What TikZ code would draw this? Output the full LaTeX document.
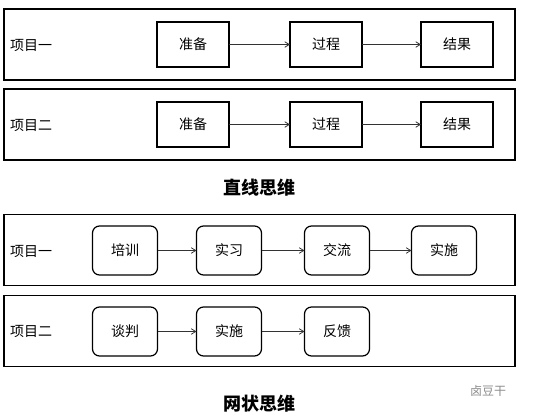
\documentclass[tikz,border=0pt]{standalone}
\usepackage{fontspec}
\setmainfont{Noto Sans CJK SC}
\usepackage{tikz}
\usetikzlibrary{arrows.meta,positioning}
\tikzset{
    laneBox/.style={
        draw,
        line width=1.2pt,
        inner sep=0pt,
        outer sep=0pt,
        minimum width=511pt,
        minimum height=71pt
    },
    laneLabel/.style={
        anchor=west,
        inner sep=0pt,
        font=\fontsize{14pt}{16pt}\selectfont
    },
    stepBox/.style={
        draw,
        line width=1.2pt,
        outer sep=0pt,
        minimum width=72pt,
        minimum height=45pt,
        font=\fontsize{14pt}{16pt}\selectfont
    },
    roundBox/.style={
        stepBox,
        rounded corners=7pt,
        minimum width=65pt,
        minimum height=49pt
    },
    flowArrow/.style={
        -{Straight Barb[length=4.5pt,width=5.5pt]},
        line width=0.8pt,
        black!80
    },
    titleText/.style={
        font=\fontsize{18pt}{20pt}\selectfont\bfseries
    }
}
\begin{document}
\begin{tikzpicture}[x=1pt,y=-1pt,node distance=60pt and 60pt]
    \useasboundingbox (0,0) rectangle (554,416);

    % straight-line thinking
    \node[laneBox] (laneA) at (259.5,44.5) {};
    \node[laneBox] (laneB) at (259.5,124.5) {};
    \node[laneLabel] (labelA) at (10,45) {项目一};
    \node[laneLabel] (labelB) at (10,125) {项目二};

    \node[stepBox] (prepA) at (193,44.5) {准备};
    \node[stepBox,right=61pt of prepA] (procA) {过程};
    \node[stepBox,right=59pt of procA] (resA) {结果};

    \node[stepBox] (prepB) at (193,124.5) {准备};
    \node[stepBox,right=61pt of prepB] (procB) {过程};
    \node[stepBox,right=59pt of procB] (resB) {结果};

    \draw[flowArrow] (prepA) -- (procA);
    \draw[flowArrow] (procA) -- (resA);
    \draw[flowArrow] (prepB) -- (procB);
    \draw[flowArrow] (procB) -- (resB);

    \node[titleText] (titleLine) at (259,188) {直线思维};

    % network thinking
    \node[laneBox] (laneC) at (259.5,250) {};
    \node[laneBox] (laneD) at (259.5,331) {};
    \node[laneLabel] (labelC) at (10,251) {项目一};
    \node[laneLabel] (labelD) at (10,331) {项目二};

    \node[roundBox] (trainC) at (125,250.5) {培训};
    \node[roundBox,right=39pt of trainC] (internC) {实习};
    \node[roundBox,right=43pt of internC] (talkC) {交流};
    \node[roundBox,right=42pt of talkC] (doC) {实施};

    \node[roundBox] (negD) at (125,331.5) {谈判};
    \node[roundBox,right=39pt of negD] (doD) {实施};
    \node[roundBox,right=43pt of doD] (backD) {反馈};

    \draw[flowArrow] (trainC) -- (internC);
    \draw[flowArrow] (internC) -- (talkC);
    \draw[flowArrow] (talkC) -- (doC);
    \draw[flowArrow] (negD) -- (doD);
    \draw[flowArrow] (doD) -- (backD);

    \node[titleText] (titleNet) at (259,404) {网状思维};
    \node[font=\fontsize{12pt}{14pt}\selectfont,text=black!45,anchor=west,inner sep=0pt] (mark) at (470,391) {卤豆干};
\end{tikzpicture}
\end{document}
